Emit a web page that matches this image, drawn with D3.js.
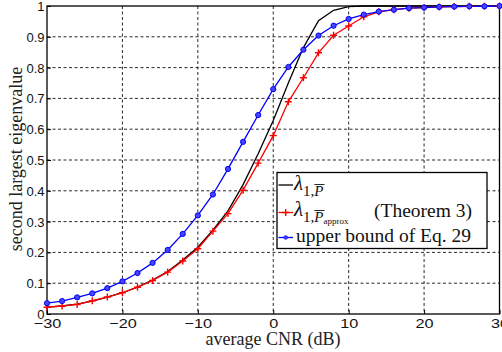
<!DOCTYPE html>
<html>
<head>
<meta charset="utf-8">
<script src="https://cdn.jsdelivr.net/npm/d3@7"></script>
<style>
  body { margin: 0; background: #fff; }
  svg { display: block; }
</style>
</head>
<body>
<script>
// data (x = average CNR in dB, every 2 dB)
var cnr = d3.range(-30, 31, 2);

var lambdaExact = [0.022, 0.026, 0.032, 0.042, 0.055, 0.069, 0.087, 0.110, 0.138, 0.175,
    0.217, 0.272, 0.335, 0.420, 0.520, 0.628, 0.750, 0.865, 0.952, 0.986,
    0.998, 1.0, 1.0, 1.0, 1.0, 1.0, 1.0, 1.0, 1.0, 1.0, 1.0];

var lambdaApprox = [0.022, 0.026, 0.031, 0.043, 0.055, 0.069, 0.087, 0.109, 0.136, 0.172,
    0.212, 0.269, 0.326, 0.402, 0.490, 0.579, 0.689, 0.767, 0.848, 0.905,
    0.935, 0.965, 0.981, 0.988, 0.993, 0.995, 0.997, 0.998, 0.999, 0.999, 1.0];

var upperBound = [0.035, 0.042, 0.054, 0.067, 0.084, 0.106, 0.133, 0.166, 0.208, 0.260,
    0.320, 0.388, 0.471, 0.559, 0.646, 0.730, 0.802, 0.858, 0.904, 0.936,
    0.958, 0.972, 0.982, 0.988, 0.993, 0.995, 0.997, 0.998, 0.999, 0.999, 1.0];

var xTicks = [-30, -20, -10, 0, 10, 20, 30];
var yTicks = [0, 0.1, 0.2, 0.3, 0.4, 0.5, 0.6, 0.7, 0.8, 0.9, 1];

var W = 502, H = 352;
var plotL = 47, plotR = 499.5, plotT = 6, plotB = 314;

var svg = d3.select("body").append("svg")
    .attr("width", W)
    .attr("height", H);

svg.append("rect").attr("width", W).attr("height", H).attr("fill", "#fff");

var x = d3.scaleLinear().domain([-30, 30]).range([plotL, plotR]);
var y = d3.scaleLinear().domain([0, 1]).range([plotB, plotT]);

// grid
var grid = svg.append("g").attr("class", "grid");
grid.selectAll(".vg")
    .data(xTicks.slice(1, -1))
    .enter().append("line")
    .attr("x1", function (d) { return x(d); })
    .attr("x2", function (d) { return x(d); })
    .attr("y1", plotT).attr("y2", plotB)
    .attr("stroke", "#111").attr("stroke-width", 0.9)
    .attr("stroke-dasharray", "3,2.5");
grid.selectAll(".hg")
    .data(yTicks.slice(1, -1))
    .enter().append("line")
    .attr("x1", plotL).attr("x2", plotR)
    .attr("y1", function (d) { return y(d); })
    .attr("y2", function (d) { return y(d); })
    .attr("stroke", "#111").attr("stroke-width", 0.9)
    .attr("stroke-dasharray", "3,2.5");

// axes
var xAxis = d3.axisBottom(x).tickValues(xTicks).tickSizeInner(-4).tickSizeOuter(0)
    .tickFormat(function (d) { return d < 0 ? "\u2212" + Math.abs(d) : d; });
var yAxis = d3.axisLeft(y).tickValues(yTicks).tickSizeInner(-4).tickSizeOuter(0)
    .tickFormat(function (d) { return d === 0 || d === 1 ? d : d3.format(".1f")(d); });

var gx = svg.append("g")
    .attr("transform", "translate(0," + plotB + ")")
    .call(xAxis);
gx.select(".domain").remove();
gx.selectAll("line").attr("stroke", "#000");
gx.selectAll("text")
    .attr("y", 14.5).attr("dy", 0)
    .attr("transform", "scale(1.25,1)")
    .style("font-family", "'Liberation Sans', Arial, sans-serif")
    .style("font-size", "13px")
    .attr("fill", "#111");

var gy = svg.append("g")
    .attr("transform", "translate(" + plotL + ",0)")
    .call(yAxis);
gy.select(".domain").remove();
gy.selectAll("line").attr("stroke", "#000");
gy.selectAll("text")
    .attr("x", -2.5).attr("dy", "0.35em")
    .style("font-family", "'Liberation Sans', Arial, sans-serif")
    .style("font-size", "13px")
    .attr("fill", "#111");

// frame
svg.append("rect")
    .attr("x", plotL).attr("y", plotT)
    .attr("width", plotR - plotL).attr("height", plotB - plotT)
    .attr("fill", "none").attr("stroke", "#000").attr("stroke-width", 1.3);

// series
function pts(vals) {
    return cnr.map(function (c, i) { return [c, vals[i]]; });
}
var line = d3.line()
    .x(function (d) { return x(d[0]); })
    .y(function (d) { return y(d[1]); });

var plot = svg.append("g");

plot.append("path").datum(pts(lambdaExact))
    .attr("d", line).attr("fill", "none")
    .attr("stroke", "#000").attr("stroke-width", 1.3);

plot.append("path").datum(pts(lambdaApprox))
    .attr("d", line).attr("fill", "none")
    .attr("stroke", "#f00").attr("stroke-width", 1.3);

plot.append("path").datum(pts(upperBound))
    .attr("d", line).attr("fill", "none")
    .attr("stroke", "#00f").attr("stroke-width", 1.3);

function plus(sel, cx, cy, s) {
    sel.append("path")
        .attr("d", "M" + (cx - s) + "," + cy + "H" + (cx + s) + "M" + cx + "," + (cy - s) + "V" + (cy + s))
        .attr("stroke", "#f00").attr("stroke-width", 1.4).attr("fill", "none");
}

pts(lambdaApprox).forEach(function (d) {
    plus(plot, x(d[0]), y(d[1]), 3.5);
});

plot.selectAll(".dot")
    .data(pts(upperBound))
    .enter().append("circle")
    .attr("class", "dot")
    .attr("cx", function (d) { return x(d[0]); })
    .attr("cy", function (d) { return y(d[1]); })
    .attr("r", 2.6)
    .attr("fill", "#4646ff")
    .attr("stroke", "#00f").attr("stroke-width", 1);

// axis labels
var serif = "'Liberation Serif', 'Times New Roman', serif";

svg.append("text")
    .attr("x", 273).attr("y", 344.5)
    .attr("text-anchor", "middle")
    .style("font-family", serif).style("font-size", "18px")
    .attr("fill", "#222")
    .text("average CNR (dB)");

svg.append("text")
    .attr("transform", "translate(22," + 159 + ") rotate(-90)")
    .attr("text-anchor", "middle")
    .style("font-family", serif).style("font-size", "18px")
    .attr("fill", "#222")
    .text("second largest eigenvalue");

// legend
var lg = svg.append("g");
lg.append("rect")
    .attr("x", 277).attr("y", 172.5)
    .attr("width", 210).attr("height", 76)
    .attr("fill", "#fff").attr("stroke", "#000").attr("stroke-width", 1.3);

var rows = [185, 212.5, 237.5];
lg.append("line").attr("x1", 278.5).attr("x2", 293).attr("y1", rows[0]).attr("y2", rows[0])
    .attr("stroke", "#000").attr("stroke-width", 1.3);
lg.append("line").attr("x1", 278.5).attr("x2", 293).attr("y1", rows[1]).attr("y2", rows[1])
    .attr("stroke", "#f00").attr("stroke-width", 1.3);
plus(lg, 285.7, rows[1], 3.5);
lg.append("line").attr("x1", 278.5).attr("x2", 293).attr("y1", rows[2]).attr("y2", rows[2])
    .attr("stroke", "#00f").attr("stroke-width", 1.3);
lg.append("circle").attr("cx", 285.7).attr("cy", rows[2]).attr("r", 1.8)
    .attr("fill", "#4646ff").attr("stroke", "#00f").attr("stroke-width", 0.8);

function lambdaLabel(baseY, approx) {
    var t = lg.append("text")
        .attr("x", 294).attr("y", baseY)
        .style("font-family", serif).attr("fill", "#111");
    t.append("tspan").style("font-size", "21px").style("font-style", "italic").text("\u03bb");
    t.append("tspan").attr("dy", 6).style("font-size", "15px").text("1,");
    t.append("tspan").style("font-size", "15px").style("font-style", "italic").text("P");
    if (approx) {
        t.append("tspan").attr("dy", 2).style("font-size", "9px").text("approx");
    }
    // bar over the P
    var e = t.node().getExtentOfChar(3);
    lg.append("line")
        .attr("x1", e.x).attr("x2", e.x + e.width + 1)
        .attr("y1", e.y + 1.5).attr("y2", e.y + 1.5)
        .attr("stroke", "#111").attr("stroke-width", 0.9);
    return t;
}

lambdaLabel(190, false);
lambdaLabel(216, true);

lg.append("text")
    .attr("x", 374).attr("y", 217)
    .style("font-family", serif).style("font-size", "19.5px")
    .attr("fill", "#111")
    .text("(Theorem 3)");

lg.append("text")
    .attr("x", 296).attr("y", 241.5)
    .style("font-family", serif).style("font-size", "19.5px")
    .attr("fill", "#111")
    .text("upper bound of Eq. 29");
</script>
</body>
</html>
